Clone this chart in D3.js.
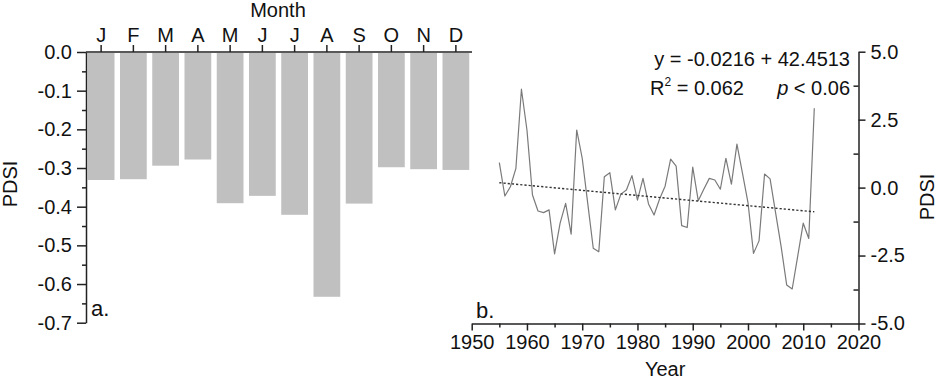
<!DOCTYPE html>
<html>
<head>
<meta charset="utf-8">
<script src="https://cdn.jsdelivr.net/npm/d3@7"></script>
<style>
  html, body { margin: 0; padding: 0; background: #fff; }
  svg { display: block; font-family: "Liberation Sans", Arial, sans-serif; }
  text { fill: #111; }
</style>
</head>
<body>
<svg id="chart" width="937" height="380"></svg>
<script>
// ---- Data: panel a (monthly PDSI bars) ----
const months = ["J","F","M","A","M","J","J","A","S","O","N","D"];
const monthValues = [-0.331, -0.329, -0.294, -0.278, -0.391, -0.372, -0.421, -0.633, -0.392, -0.298, -0.303, -0.305];
const leftTicks = [0.0, -0.1, -0.2, -0.3, -0.4, -0.5, -0.6, -0.7];
const leftMinorTicks = [-0.05, -0.15, -0.25, -0.35, -0.45, -0.55, -0.65];

// ---- Data: panel b (annual PDSI series) ----
const years = d3.range(1955, 2013);
const pdsi = [
  0.92, -0.31, 0.03, 0.71, 3.62, 2.12, -0.27, -0.86, -0.92, -0.82,
  -2.44, -1.31, -0.58, -1.71, 2.12, 1.08, -0.58, -2.23, -2.36, 0.40,
  0.55, -0.82, -0.24, -0.09, 0.44, -0.46, 0.34, -0.60, -1.01, -0.42,
  0.05, 1.05, 0.79, -1.40, -1.47, 0.75, -0.48, -0.06, 0.34, 0.28,
  -0.06, 1.08, 0.13, 1.60, 0.53, -0.55, -2.42, -1.96, 0.50, 0.32,
  -0.93, -2.17, -3.58, -3.73, -2.52, -1.31, -1.87, 2.92
];
const trendYears = [1955, 2012];
const trendValues = [0.18, -0.89];
const yearTicks = [1950, 1960, 1970, 1980, 1990, 2000, 2010, 2020];
const yearMinorTicks = [1955, 1965, 1975, 1985, 1995, 2005, 2015];
const rightTicks = [-5.0, -2.5, 0.0, 2.5, 5.0];
const rightMinorTicks = [-3.75, -1.25, 1.25, 3.75];

const svg = d3.select("#chart");
const fmt1 = d => d.toFixed(1);
const FS = 20;

function styleAxis(g) {
  g.selectAll("path.domain").attr("stroke", "#222").attr("stroke-width", 1.5);
  g.selectAll(".tick line").attr("stroke", "#222").attr("stroke-width", 1.5);
  g.selectAll(".tick text").attr("font-size", FS).attr("fill", "#111")
    .attr("font-family", "Liberation Sans, Arial, sans-serif");
  g.attr("font-family", null);
}

// ================= Panel a =================
const xa = d3.scaleBand().domain(d3.range(months.length)).range([85, 472]).paddingInner(0.17).paddingOuter(0.085);
const ya = d3.scaleLinear().domain([-0.7, 0]).range([322.7, 52]);

svg.append("g").selectAll("rect").data(monthValues).join("rect")
  .attr("x", (d, i) => xa(i))
  .attr("width", xa.bandwidth())
  .attr("y", ya(0) + 1)
  .attr("height", d => ya(d) - ya(0) - 1)
  .attr("fill", "#c0c0c0");

// left y-axis
const gya = svg.append("g").attr("transform", "translate(86,0)")
  .call(d3.axisLeft(ya).tickValues(leftTicks).tickFormat(fmt1).tickSize(9).tickSizeOuter(0).tickPadding(5));
styleAxis(gya);
const gyam = svg.append("g").attr("transform", "translate(86,0)")
  .call(d3.axisLeft(ya).tickValues(leftMinorTicks).tickFormat("").tickSize(4).tickSizeOuter(0));
styleAxis(gyam);
gyam.select("path.domain").remove();

// top month axis
const gxa = svg.append("g").attr("transform", `translate(0,${ya(0)})`)
  .call(d3.axisTop(xa).tickFormat(i => months[i]).tickSize(7).tickSizeOuter(0).tickPadding(3));
styleAxis(gxa);
gxa.select("path.domain").attr("d", `M86,0H472`);

svg.append("text").attr("x", 278).attr("y", 17).attr("text-anchor", "middle")
  .attr("font-size", FS).text("Month");
svg.append("text").attr("transform", "translate(17,184) rotate(-90)")
  .attr("text-anchor", "middle").attr("font-size", FS).text("PDSI");
svg.append("text").attr("x", 91).attr("y", 316).attr("font-size", 22).text("a.");

// ================= Panel b =================
const xb = d3.scaleLinear().domain([1950, 2020]).range([471.7, 858.5]);
const yb = d3.scaleLinear().domain([-5, 5]).range([323.5, 51.7]);

const gxb = svg.append("g").attr("transform", `translate(0,${yb(-5)})`)
  .call(d3.axisBottom(xb).tickValues(yearTicks).tickFormat(d3.format("d")).tickSize(7).tickSizeOuter(0).tickPadding(4));
styleAxis(gxb);
const gxbm = svg.append("g").attr("transform", `translate(0,${yb(-5)})`)
  .call(d3.axisBottom(xb).tickValues(yearMinorTicks).tickFormat("").tickSize(4).tickSizeOuter(0));
styleAxis(gxbm);
gxbm.select("path.domain").remove();

const gyb = svg.append("g").attr("transform", `translate(${xb(2020)},0)`)
  .call(d3.axisRight(yb).tickValues(rightTicks).tickFormat(fmt1).tickSize(7).tickSizeOuter(0).tickPadding(5));
styleAxis(gyb);
const gybm = svg.append("g").attr("transform", `translate(${xb(2020)},0)`)
  .call(d3.axisLeft(yb).tickValues(rightMinorTicks).tickFormat("").tickSize(5).tickSizeOuter(0));
styleAxis(gybm);
gybm.select("path.domain").remove();

// series line
const line = d3.line().x((d, i) => xb(years[i])).y(d => yb(d));
svg.append("path").datum(pdsi).attr("d", line)
  .attr("fill", "none").attr("stroke", "#7a7a7a").attr("stroke-width", 1.2)
  .attr("stroke-linejoin", "round");

// trend line
svg.append("path").datum(trendValues)
  .attr("d", d3.line().x((d, i) => xb(trendYears[i])).y(d => yb(d)))
  .attr("fill", "none").attr("stroke", "#333").attr("stroke-width", 1.4)
  .attr("stroke-dasharray", "2.2,2");

// texts
svg.append("text").attr("x", 850).attr("y", 66).attr("text-anchor", "end")
  .attr("font-size", FS).text("y = -0.0216 + 42.4513");
const r2 = svg.append("text").attr("x", 650).attr("y", 95).attr("font-size", FS);
r2.append("tspan").text("R");
r2.append("tspan").attr("font-size", 12).attr("dy", -9).text("2");
r2.append("tspan").attr("dy", 9).text(" = 0.062");
const pt = svg.append("text").attr("x", 850).attr("y", 95).attr("text-anchor", "end").attr("font-size", FS);
pt.append("tspan").attr("font-style", "italic").text("p");
pt.append("tspan").text(" < 0.06");

svg.append("text").attr("x", xb(1985)).attr("y", 376).attr("text-anchor", "middle")
  .attr("font-size", FS).text("Year");
svg.append("text").attr("transform", "translate(934,197) rotate(-90)")
  .attr("text-anchor", "middle").attr("font-size", FS).text("PDSI");
svg.append("text").attr("x", 476).attr("y", 318).attr("font-size", 22).text("b.");
</script>
</body>
</html>
